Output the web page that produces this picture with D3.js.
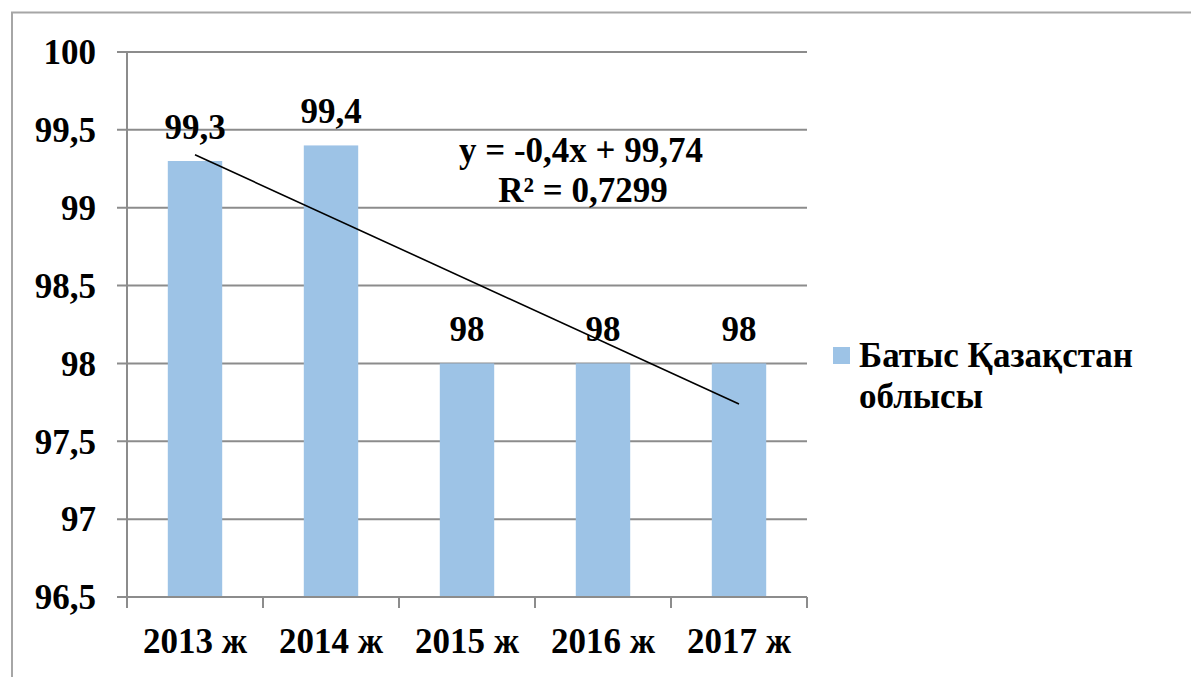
<!DOCTYPE html>
<html>
<head>
<meta charset="utf-8">
<script src="https://cdn.jsdelivr.net/npm/d3@7"></script>
<style>
  html, body { margin: 0; padding: 0; background: #ffffff; }
  svg { display: block; }
</style>
</head>
<body>
<svg id="chart" width="1191" height="677"></svg>
<script>
const categories = ["2013 ж", "2014 ж", "2015 ж", "2016 ж", "2017 ж"];
const values = [99.3, 99.4, 98, 98, 98];
const valueLabels = ["99,3", "99,4", "98", "98", "98"];
const yTicks = [96.5, 97, 97.5, 98, 98.5, 99, 99.5, 100];
const yTickLabels = ["96,5", "97", "97,5", "98", "98,5", "99", "99,5", "100"];
const seriesName = ["Батыс Қазақстан", "облысы"];
const trendSlope = -0.4;
const trendIntercept = 99.74;
const equationLines = ["y = -0,4x + 99,74", "R² = 0,7299"];

(function () {
const svg = d3.select("#chart")
  .attr("font-family", "'Liberation Serif', 'Times New Roman', Times, serif")
  .attr("font-weight", "bold");
const W = 1191, H = 677;
const pL = 127, pR = 807, pT = 52, pB = 597;
const fs = 35;

// outer frame
svg.append("path")
  .attr("d", `M12,${H + 5} L12,12.5 L${W + 5},12.5`)
  .attr("fill", "none").attr("stroke", "#a6a6a6").attr("stroke-width", 2);

const y = d3.scaleLinear().domain([96.5, 100]).range([pB, pT]);
const x = d3.scaleBand().domain(categories).range([pL, pR])
  .paddingInner(0.6).paddingOuter(0.3);
const step = x.step();

// gridlines + y tick marks
svg.append("g").selectAll("line").data(yTicks).join("line")
  .attr("x1", pL - 10).attr("x2", pR)
  .attr("y1", d => y(d)).attr("y2", d => y(d))
  .attr("stroke", "#8c8c8c").attr("stroke-width", 2);

// y axis line
svg.append("line").attr("x1", pL).attr("x2", pL)
  .attr("y1", pT).attr("y2", pB)
  .attr("stroke", "#8c8c8c").attr("stroke-width", 2);

// x boundary ticks
const bounds = d3.range(categories.length + 1).map(i => pL + i * step);
svg.append("g").selectAll("line").data(bounds).join("line")
  .attr("x1", d => d).attr("x2", d => d)
  .attr("y1", pB).attr("y2", pB + 11)
  .attr("stroke", "#8c8c8c").attr("stroke-width", 2);

// y tick labels
svg.append("g").selectAll("text").data(yTicks).join("text")
  .attr("x", 96).attr("y", d => y(d))
  .attr("dy", "0.35em")
  .attr("text-anchor", "end")
  .attr("font-size", fs)
  .text((d, i) => yTickLabels[i]);

// bars
svg.append("g").selectAll("rect").data(values).join("rect")
  .attr("x", (d, i) => x(categories[i]))
  .attr("width", x.bandwidth())
  .attr("y", d => y(d))
  .attr("height", d => pB - y(d))
  .attr("fill", "#9dc3e6");

// x axis line on top
svg.append("line").attr("x1", pL).attr("x2", pR)
  .attr("y1", pB).attr("y2", pB)
  .attr("stroke", "#8c8c8c").attr("stroke-width", 2);

// x labels
svg.append("g").selectAll("text").data(categories).join("text")
  .attr("x", d => x(d) + x.bandwidth() / 2)
  .attr("y", 653)
  .attr("text-anchor", "middle")
  .attr("font-size", fs)
  .text(d => d);

// data labels
svg.append("g").selectAll("text").data(values).join("text")
  .attr("x", (d, i) => x(categories[i]) + x.bandwidth() / 2)
  .attr("y", d => y(d) - 22)
  .attr("text-anchor", "middle")
  .attr("font-size", fs)
  .text((d, i) => valueLabels[i]);

// trend line
const cx = i => x(categories[i]) + x.bandwidth() / 2;
const n = categories.length;
svg.append("line")
  .attr("x1", cx(0)).attr("y1", y(trendSlope * 1 + trendIntercept))
  .attr("x2", cx(n - 1)).attr("y2", y(trendSlope * n + trendIntercept))
  .attr("stroke", "#000").attr("stroke-width", 1.6);

// equation
svg.append("text").attr("x", 581).attr("y", 162)
  .attr("text-anchor", "middle").attr("font-size", fs)
  .text(equationLines[0]);
svg.append("text").attr("x", 583).attr("y", 202)
  .attr("text-anchor", "middle").attr("font-size", fs)
  .text(equationLines[1]);

// legend
svg.append("rect").attr("x", 833).attr("y", 347).attr("width", 17).attr("height", 17)
  .attr("fill", "#9dc3e6");
svg.append("text").attr("x", 859).attr("y", 367).attr("font-size", fs).text(seriesName[0]);
svg.append("text").attr("x", 859).attr("y", 408).attr("font-size", fs).text(seriesName[1]);
})();
</script>
</body>
</html>
